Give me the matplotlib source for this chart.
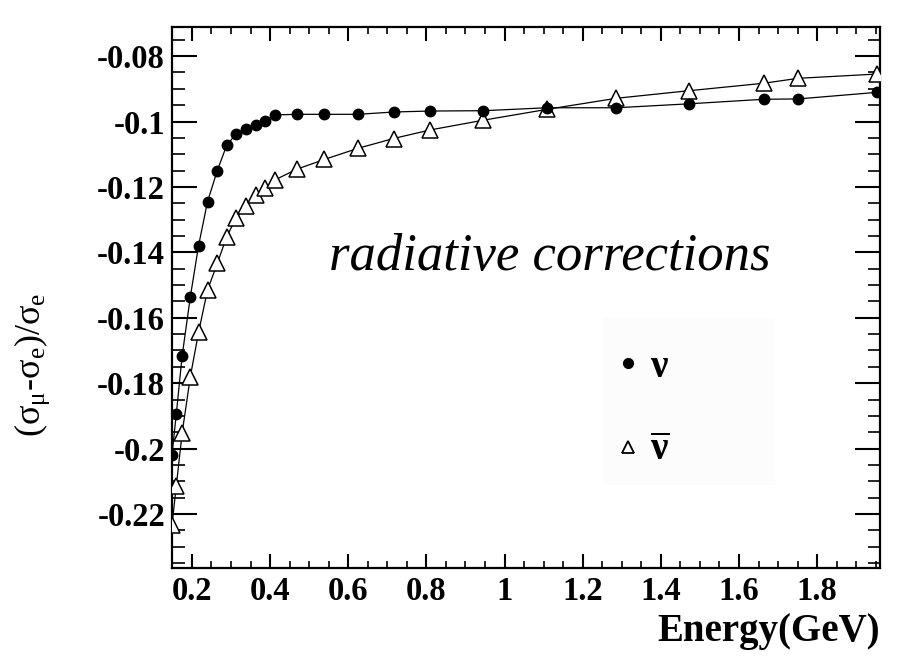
import matplotlib
matplotlib.use("Agg")
import matplotlib.pyplot as plt
from matplotlib.ticker import MultipleLocator, FixedLocator
from matplotlib.lines import Line2D
from matplotlib.patches import Rectangle

plt.rcParams['mathtext.fontset'] = 'custom'
plt.rcParams['mathtext.rm'] = 'Liberation Serif'
plt.rcParams['mathtext.it'] = 'Liberation Serif:italic'
plt.rcParams['mathtext.bf'] = 'Liberation Serif:bold'

energy = [0.149, 0.160, 0.175, 0.196, 0.217, 0.240, 0.265, 0.289, 0.313, 0.338,
          0.363, 0.388, 0.412, 0.468, 0.539, 0.625, 0.716, 0.809, 0.946, 1.108,
          1.286, 1.471, 1.664, 1.751, 1.952]
nu = [-0.2020, -0.1895, -0.1717, -0.1536, -0.1380, -0.1245, -0.1150, -0.1073,
      -0.1038, -0.1022, -0.1010, -0.0998, -0.0980, -0.0978, -0.0978, -0.0978,
      -0.0971, -0.0968, -0.0967, -0.0958, -0.0958, -0.0946, -0.0932, -0.0931,
      -0.0911]
nubar = [-0.2234, -0.2115, -0.1953, -0.1780, -0.1645, -0.1515, -0.1434, -0.1352,
         -0.1296, -0.1259, -0.1225, -0.1204, -0.1179, -0.1146, -0.1116, -0.1082,
         -0.1052, -0.1026, -0.0996, -0.0963, -0.0929, -0.0906, -0.0883, -0.0868,
         -0.0855]

xticks = [0.2, 0.4, 0.6, 0.8, 1.0, 1.2, 1.4, 1.6, 1.8]
xticklabels = ['0.2', '0.4', '0.6', '0.8', '1', '1.2', '1.4', '1.6', '1.8']
yticks = [-0.22, -0.2, -0.18, -0.16, -0.14, -0.12, -0.1, -0.08]
yticklabels = ['-0.22', '-0.2', '-0.18', '-0.16', '-0.14', '-0.12', '-0.1', '-0.08']

fig = plt.figure(figsize=(8.98, 6.61), dpi=100)
ax = fig.add_axes([0.1915, 0.1407, 0.7885, 0.8185])

# faint legend background panel
ax.add_patch(Rectangle((0.609, 0.153), 0.243, 0.309, transform=ax.transAxes,
                       facecolor='#fcfcfc', edgecolor='none', zorder=0))

ax.plot(energy, nubar, color='black', lw=0.9, marker='^', markersize=12,
        markerfacecolor='white', markeredgecolor='black', markeredgewidth=1.1, zorder=3)
ax.plot(energy, nu, color='black', lw=0.9, marker='o', markersize=7.5,
        markerfacecolor='black', markeredgecolor='black', zorder=4)

ax.set_xlim(0.149, 1.961)
ax.set_ylim(-0.2365, -0.0711)

ax.xaxis.set_major_locator(FixedLocator(xticks))
ax.set_xticklabels(xticklabels)
ax.yaxis.set_major_locator(FixedLocator(yticks))
ax.set_yticklabels(yticklabels)
ax.xaxis.set_minor_locator(MultipleLocator(0.05))
ax.yaxis.set_minor_locator(MultipleLocator(0.005))

for lab in ax.get_xticklabels() + ax.get_yticklabels():
    lab.set_fontfamily('Liberation Serif')
    lab.set_fontweight('bold')
    lab.set_fontsize(23.5)

ax.tick_params(axis='x', which='major', direction='in', length=10, width=1.5,
               top=True, bottom=True, pad=6)
ax.tick_params(axis='x', which='minor', direction='in', length=5, width=1.2,
               top=True, bottom=True)
ax.tick_params(axis='y', which='major', direction='in', length=18, width=1.5,
               left=True, right=True, pad=5)
ax.tick_params(axis='y', which='minor', direction='in', length=9, width=1.2,
               left=True, right=True)
for s in ax.spines.values():
    s.set_linewidth(1.6)

ax.set_xlabel('Energy(GeV)', fontfamily='Liberation Serif', fontweight='bold',
              fontsize=28)
ax.xaxis.set_label_coords(1.0, -0.118)
ax.xaxis.label.set_horizontalalignment('right')
ax.xaxis.label.set_verticalalignment('center')

ax.set_ylabel(r'$\mathrm{(\sigma_{\mu}}$-$\mathrm{\sigma_{e})/\sigma_{e}}$',
              fontfamily='Liberation Serif', fontsize=26)
ax.yaxis.set_label_coords(-0.198, 0.375)
ax.yaxis.label.set_verticalalignment('center')
ax.yaxis.label.set_horizontalalignment('center')

ax.text(0.534, 0.575, 'radiative corrections', transform=ax.transAxes,
        fontfamily='Liberation Serif', fontstyle='italic', fontsize=38,
        ha='center', va='center')

handles = [Line2D([], [], ls='none', marker='o', markersize=7, color='black'),
           Line2D([], [], ls='none', marker='^', markersize=9, markerfacecolor='white',
                  markeredgecolor='black', markeredgewidth=1.3)]
labels = [r'$\mathbf{\nu}$', r'$\mathbf{\overline{\nu}}$']
leg = ax.legend(handles, labels, loc='center', bbox_to_anchor=(0.665, 0.294),
                prop=dict(family='Liberation Serif', weight='bold', size=28),
                frameon=False, handlelength=0.6, handletextpad=0.25,
                labelspacing=1.2, borderpad=0.0)

fig.savefig('out.png', dpi=100)
